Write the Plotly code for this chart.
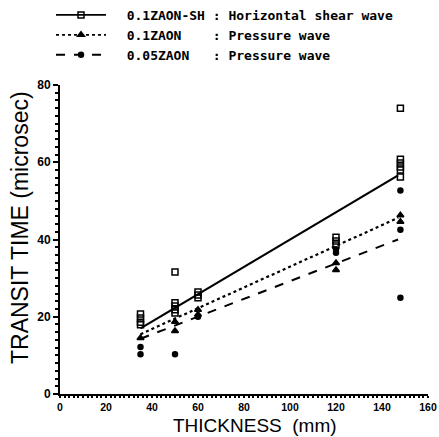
import plotly.graph_objects as go

# ---- data ----
sh_x = [35, 35, 35, 35, 50, 50, 50, 50, 50, 60, 60, 60, 120, 120, 120, 148, 148, 148, 148, 148, 148]
sh_y = [20.7, 19.7, 18.6, 17.9, 31.6, 23.6, 22.8, 21.8, 21.0, 26.4, 25.6, 24.9, 40.6, 39.6, 38.6, 74.0, 60.8, 59.8, 58.8, 58.0, 56.2]

p1_x = [35, 50, 50, 60, 60, 120, 120, 148, 148]
p1_y = [14.5, 18.7, 16.3, 21.8, 20.6, 33.9, 32.1, 46.3, 44.6]

p05_x = [35, 35, 50, 60, 120, 120, 148, 148, 148]
p05_y = [12.2, 10.3, 10.3, 20.0, 37.5, 36.6, 52.7, 42.5, 24.9]

fit_x = [35, 147]
sh_fit = [17.0, 56.6]
p1_fit = [15.5, 45.6]
p05_fit = [14.3, 40.0]

x_ticks = [0, 20, 40, 60, 80, 100, 120, 140, 160]
y_ticks = [0, 20, 40, 60, 80]

labels = ["0.1ZAON-SH : Horizontal shear wave",
          "0.1ZAON    : Pressure wave",
          "0.05ZAON   : Pressure wave"]

W, H = 439, 437

fig = go.Figure()

styles = [
    dict(dash="solid", symbol="square-open", size=6, lw=2.2),
    dict(dash="dot", symbol="triangle-up", size=6, lw=2.2),
    dict(dash="dash", symbol="circle", size=5, lw=2.0),
]
series = [(sh_x, sh_y, sh_fit), (p1_x, p1_y, p1_fit), (p05_x, p05_y, p05_fit)]

for (xs, ys, fit), st, lab in zip(series, styles, labels):
    fig.add_trace(go.Scatter(x=fit_x, y=fit, mode="lines",
                             line=dict(color="black", width=st["lw"], dash=st["dash"]),
                             showlegend=False, hoverinfo="skip"))
    fig.add_trace(go.Scatter(x=xs, y=ys, mode="markers",
                             marker=dict(symbol=st["symbol"], size=st["size"], color="black",
                                         line=dict(color="black", width=1.5)),
                             showlegend=False))
    fig.add_trace(go.Scatter(x=[None], y=[None], mode="lines+markers",
                             name=("  " + lab).replace(" ", "\u00a0"),
                             line=dict(color="black", width=1.8, dash=st["dash"]),
                             marker=dict(symbol=st["symbol"], size=st["size"], color="black",
                                         line=dict(color="black", width=1.5))))

axis_common = dict(showgrid=False, zeroline=False, showline=True, linecolor="black", linewidth=2,
                   automargin=False, tickcolor="black")

# plot area: x from 60 to 428 px, y from 85 to 394 px (paper = whole figure)
fig.update_xaxes(range=[0, 160], tickvals=x_ticks, domain=[60 / W, 428 / W],
                 ticks="outside", ticklen=2, tickwidth=2,
                 tickfont=dict(family="Liberation Sans", size=10.5, color="black", weight="bold"),
                 minor=dict(ticks="outside", ticklen=2, tickwidth=1.5, tickcolor="black", dtick=2),
                 **axis_common)
fig.update_yaxes(range=[0, 80], tickvals=y_ticks, domain=[(H - 394) / H, (H - 85) / H],
                 ticks="outside", ticklen=5, tickwidth=2,
                 tickfont=dict(family="Liberation Sans", size=12, color="black", weight="bold"),
                 minor=dict(ticks="outside", ticklen=3, tickwidth=1.5, tickcolor="black", dtick=2),
                 **axis_common)

fig.add_annotation(text="TRANSIT TIME (microsec)", xref="paper", yref="paper",
                   x=20 / W, y=(H - 228) / H, xanchor="center", yanchor="middle",
                   textangle=-90, showarrow=False,
                   font=dict(family="Liberation Sans", size=23, color="black"))
fig.add_annotation(text="THICKNESS\u00a0\u00a0(mm)", xref="paper", yref="paper",
                   x=255 / W, y=0.0, xanchor="center", yanchor="bottom", showarrow=False,
                   borderpad=0,
                   font=dict(family="Liberation Sans", size=19, color="black"))

fig.update_layout(
    width=W, height=H,
    margin=dict(l=0, r=0, t=0, b=0),
    paper_bgcolor="white", plot_bgcolor="white",
    legend=dict(x=51 / W, y=1.0, xanchor="left", yanchor="top",
                font=dict(family="DejaVu Sans Mono", size=13, color="black", weight="bold"),
                itemwidth=50, tracegroupgap=0, bgcolor="rgba(0,0,0,0)"),
)

fig.write_html("out.html", config={"displayModeBar": False},
               post_script="document.body.style.margin='0';")
